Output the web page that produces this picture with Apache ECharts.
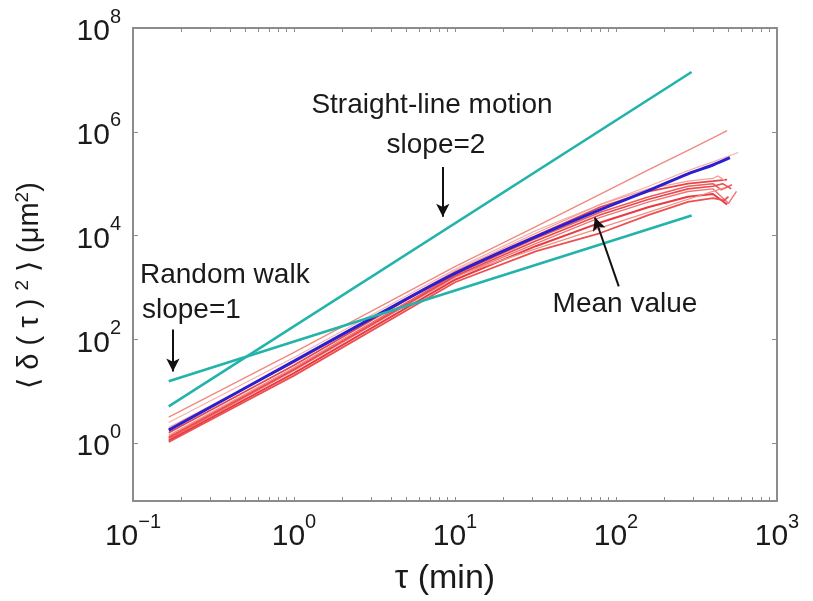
<!DOCTYPE html>
<html>
<head>
<meta charset="utf-8">
<script src="https://cdn.jsdelivr.net/npm/echarts@6/dist/echarts.min.js"></script>
<style>
  html, body { margin: 0; padding: 0; background: #ffffff; }
  #main { width: 813px; height: 601px; }
</style>
</head>
<body>
<div id="main"></div>
<script>
const FONT = '"Liberation Sans", Arial, Helvetica, sans-serif';

// Axis decorations: decade labels and log minor ticks
const tauDecades = [0.1, 1, 10, 100, 1000];
const tauTicks = [0.1, 0.2, 0.3, 0.4, 0.5, 0.6, 0.7, 0.8, 0.9,
                  1, 2, 3, 4, 5, 6, 7, 8, 9,
                  10, 20, 30, 40, 50, 60, 70, 80, 90,
                  100, 200, 300, 400, 500, 600, 700, 800, 900, 1000];
const msdDecades = [1, 1e2, 1e4, 1e6, 1e8];

// Reference power laws: straight-line motion (slope 2) and random walk (slope 1)
const straightLine = [[0.1667, 5.1], [295, 1.42e7]];
const randomWalk = [[0.1667, 15.6], [295, 2.43e4]];

// Mean squared displacement, individual cells (tau in min, MSD in µm²)
const cell1 = [[0.1667, 3.16], [1, 56], [10, 2510], [32, 15100], [80, 63100], [160, 1.86e5], [280, 4.37e5], [400, 7.59e5], [490, 1.05e6]];
const cell2 = [[0.1667, 2.5], [1, 44.7], [10, 2240], [32, 12600], [80, 39800], [160, 89100], [280, 1.78e5], [400, 2.63e5], [575, 3.98e5]];
const cell3 = [[0.1667, 1.58], [1, 31.6], [10, 2000], [32, 10000], [80, 35500], [160, 70800], [280, 1e5], [400, 1.12e5], [490, 1.2e5]];
const cell4 = [[0.1667, 1.32], [1, 28.2], [10, 1780], [32, 8910], [80, 28200], [160, 56200], [280, 89100], [400, 1e5], [450, 75900], [525, 95500]];
const cell5 = [[0.1667, 1.2], [1, 25.1], [10, 1580], [32, 7080], [80, 22400], [160, 44700], [280, 70800], [400, 79400], [440, 60300], [500, 41700], [560, 70800]];
const cell6 = [[0.1667, 1.12], [1, 22.4], [10, 1410], [32, 6310], [80, 17800], [160, 35500], [280, 56200], [400, 63100], [490, 39800]];
const cell7 = [[0.1667, 1.41], [1, 28.2], [10, 1660], [32, 5620], [80, 14100], [160, 28200], [280, 50100], [400, 70800], [470, 83200]];
const cell8 = [[0.1667, 1.05], [1, 20], [10, 1260], [32, 5010], [80, 11200], [160, 25100], [280, 44700], [400, 52500], [470, 47900], [500, 56200]];
const cell9 = [[0.1667, 2.0], [1, 35.5], [10, 2090], [32, 11200], [80, 39800], [160, 79400], [280, 1.12e5], [400, 1.26e5], [430, 1.41e5], [480, 1.12e5]];
const cell10 = [[0.1667, 1.26], [1, 26.3], [10, 1660], [32, 7940], [80, 25100], [160, 50100], [280, 79400], [400, 89100], [460, 1e5], [520, 79400]];

// Average over all cells
const meanMsd = [[0.1667, 1.78], [1, 38], [3, 251], [10, 1862], [32, 9550], [80, 31600], [160, 74100], [280, 1.55e5], [400, 2.29e5], [510, 3.16e5]];

const cells = [cell1, cell2, cell3, cell4, cell5, cell6, cell7, cell8, cell9, cell10];
const cellColors = ['#f08a80', '#f6b2ac', '#e8454a', '#ee5c5c', '#f07474', '#e83a40', '#f29088', '#ec5050', '#f4a098', '#ea4a4e'];
const cellWidths = [1.4, 1.2, 1.8, 1.6, 1.4, 2, 1.3, 1.8, 1.3, 1.6];

const AXIS_GRAY = '#8c8c8c';
const INK = '#1a1a1a';

function powerLabel(v) {
  const e = Math.round(Math.log10(v));
  return '{b|10}{s|' + (e < 0 ? '\u2212' + (-e) : e) + '}';
}

const labelRich = {
  b: { fontSize: 30, fontFamily: FONT, color: INK },
  s: { fontSize: 20, fontFamily: FONT, color: INK, padding: [0, 0, 30, 0] }
};

function xAxisDef(pos, visibleLabels) {
  return {
    type: 'log', logBase: 10, position: pos,
    min: 0.1, max: 1000,
    axisLine: { show: true, onZero: false, lineStyle: { color: AXIS_GRAY, width: 2 } },
    axisTick: { show: true, inside: true, length: 4, customValues: tauTicks, lineStyle: { color: AXIS_GRAY, width: 1 } },
    axisLabel: visibleLabels ? {
      show: true, customValues: tauDecades, margin: 11, formatter: powerLabel, rich: labelRich
    } : { show: false },
    splitLine: { show: false },
    minorTick: { show: false }
  };
}

function yAxisDef(pos, visibleLabels) {
  return {
    type: 'log', logBase: 10, position: pos,
    min: 0.0767, max: 1e8,
    axisLine: { show: true, onZero: false, lineStyle: { color: AXIS_GRAY, width: 2 } },
    axisTick: { show: true, inside: true, length: 5, customValues: msdDecades, lineStyle: { color: AXIS_GRAY, width: 1 } },
    axisLabel: visibleLabels ? {
      show: true, customValues: msdDecades, margin: 12, padding: [8, 0, 0, 0],
      formatter: powerLabel, rich: labelRich
    } : { show: false },
    splitLine: { show: false },
    minorTick: { show: false }
  };
}

const xBottom = xAxisDef('bottom', true);
xBottom.name = '\u03c4 (min)';
xBottom.nameLocation = 'middle';
xBottom.nameGap = 61;
xBottom.nameTextStyle = { fontSize: 34, fontFamily: FONT, color: INK, padding: [0, 20, 0, 0] };

const yLeft = yAxisDef('left', true);
yLeft.name = '\u27e8 \u03b4 ( \u03c4 ) {s|2} \u27e9 (\u03bcm{s|2})';
yLeft.nameLocation = 'middle';
yLeft.nameGap = 86;
yLeft.nameRotate = 90;
yLeft.nameTextStyle = {
  fontSize: 29, fontFamily: FONT, color: INK, padding: [0, 42, 0, 0],
  rich: { s: { fontSize: 19, fontFamily: FONT, color: INK, padding: [0, 0, 15, 0] } }
};

const series = [];
cells.forEach((c, i) => {
  series.push({
    type: 'line', data: c, xAxisIndex: 0, yAxisIndex: 0,
    showSymbol: false, symbol: 'none',
    lineStyle: { color: cellColors[i], width: cellWidths[i] },
    z: 2
  });
});
series.push({
  type: 'line', data: meanMsd, xAxisIndex: 0, yAxisIndex: 0,
  symbol: 'none', smooth: 0.3,
  lineStyle: { color: '#2b1fcf', width: 3 },
  z: 3
});
series.push({
  type: 'line', data: straightLine, xAxisIndex: 0, yAxisIndex: 0,
  symbol: 'none',
  lineStyle: { color: '#22b3aa', width: 2.6 },
  z: 4
});
series.push({
  type: 'line', data: randomWalk, xAxisIndex: 0, yAxisIndex: 0,
  symbol: 'none',
  lineStyle: { color: '#22b3aa', width: 2.6 },
  z: 4,
  // annotation arrows
  markLine: {
    silent: true, animation: false,
    symbol: ['none', 'arrow'], symbolSize: [10, 13],
    lineStyle: { color: '#111111', width: 2, type: 'solid' },
    label: { show: false },
    data: [
      [{ coord: [8.4, 2.1e5] }, { coord: [8.4, 2.3e4] }],
      [{ coord: [0.177, 155] }, { coord: [0.177, 24] }],
      [{ coord: [104, 1050] }, { coord: [74, 22300] }]
    ]
  }
});

const note = (t, x, y, align) => ({
  type: 'text', x: x, y: y, z: 10,
  style: { text: t, fontSize: 28, fontFamily: FONT, fill: INK, align: align, verticalAlign: 'middle' }
});

const chart = echarts.init(document.getElementById('main'), null, { renderer: 'canvas' });
chart.setOption({
  animation: false,
  backgroundColor: '#ffffff',
  grid: { left: 133, right: 36, top: 28, bottom: 99, containLabel: false },
  xAxis: [xBottom, xAxisDef('top', false)],
  yAxis: [yLeft, yAxisDef('right', false)],
  series: series,
  graphic: [
    note('Straight-line motion', 432, 105, 'center'),
    note('slope=2', 436, 145, 'center'),
    note('Random walk', 140, 275, 'left'),
    note('slope=1', 142, 310, 'left'),
    note('Mean value', 625, 304, 'center')
  ]
});
</script>
</body>
</html>
